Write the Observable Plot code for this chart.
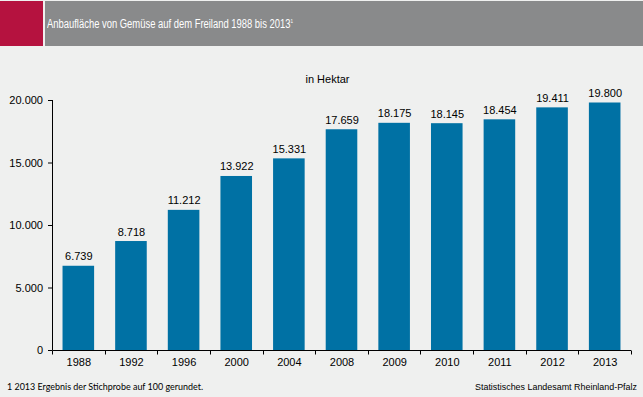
<!DOCTYPE html>
<html><head><meta charset="utf-8">
<script src="https://cdn.jsdelivr.net/npm/d3@7"></script>
<script src="https://cdn.jsdelivr.net/npm/@observablehq/plot@0.6"></script>
<style>
html,body{margin:0;padding:0;background:#eff0ef;width:643px;height:397px;overflow:hidden;font-family:"Liberation Sans",Arial,sans-serif;}
#wrap{position:relative;width:643px;height:397px;}
#red{position:absolute;left:0;top:1px;width:43px;height:45px;background:#b5123f;}
#gray{position:absolute;left:45px;top:1px;width:598px;height:45px;background:#898a8b;}
#title{position:absolute;left:47px;top:17px;color:#fff;font-size:12.5px;white-space:nowrap;transform-origin:0 0;}
#title sup{font-size:6px;vertical-align:5px;}
#chart{position:absolute;left:0;top:46px;}
.note{position:absolute;font-size:9px;color:#000;white-space:nowrap;transform-origin:0 0;}
#legend{position:absolute;top:73px;left:0;width:655px;text-align:center;font-size:11px;color:#000;}
</style></head>
<body><div id="wrap">
<div id="red"></div><div id="gray"></div>
<div id="title">Anbaufläche von Gemüse auf dem Freiland 1988 bis 2013<sup>1</sup></div>
<div id="legend">in Hektar</div>
<div id="chart"></div>
<div class="note" id="foot" style="left:7px;top:381px;font-family:Lato,sans-serif;">1 2013 Ergebnis der Stichprobe auf 100 gerundet.</div>
<div class="note" id="src" style="left:475px;top:382px;">Statistisches Landesamt Rheinland-Pfalz</div>
</div>
<script>
const years = ["1988","1992","1996","2000","2004","2008","2009","2010","2011","2012","2013"];
const values = [6739, 8718, 11212, 13922, 15331, 17659, 18175, 18145, 18454, 19411, 19800];
const yTicks = [0, 5000, 10000, 15000, 20000];

const de = d3.formatLocale({decimal: ",", thousands: ".", grouping: [3], currency: ["", "€"]});
const fmt = de.format(",d");
const data = years.map((y, i) => ({year: y, value: values[i]}));

const W = 643, H = 351, ML = 52, MR = 12, MT = 54, MB = 47;

const axesMark = (index, scales, values, dims) => {
  const y = scales.y;
  const g = d3.create("svg:g").attr("stroke", "#000").attr("stroke-width", 1);
  const y0 = Math.round(y(0)) + 0.5;
  const left = dims.marginLeft + 0.5;
  g.append("line").attr("x1", left).attr("x2", left).attr("y1", Math.round(y(yTicks[yTicks.length-1]))).attr("y2", y0);
  g.append("line").attr("x1", left).attr("x2", dims.width - dims.marginRight).attr("y1", y0).attr("y2", y0);
  const step = (dims.width - dims.marginLeft - dims.marginRight) / years.length;
  for (let i = 0; i <= years.length; i++) {
    const bx = Math.round(dims.marginLeft + i * step) + 0.5;
    g.append("line").attr("x1", bx).attr("x2", bx).attr("y1", y0).attr("y2", y0 + 4);
  }
  return g.node();
};

const chart = Plot.plot({
  width: W, height: H,
  marginLeft: ML, marginRight: MR, marginTop: MT, marginBottom: MB,
  style: {background: "transparent", fontFamily: "'Liberation Sans', Arial, sans-serif", fontSize: "11px", color: "#000"},
  x: {type: "band", domain: years, paddingInner: 0.4, paddingOuter: 0.2, round: false},
  y: {domain: [0, 20000]},
  marks: [
    Plot.barY(data, {x: "year", y: "value", fill: "#0071a4"}),
    Plot.text(data, {x: "year", y: "value", text: d => fmt(d.value), dy: -6, lineAnchor: "bottom", fontSize: 11, fill: "#000"}),
    Plot.axisY({ticks: yTicks, tickFormat: fmt, tickSize: 4, tickPadding: 5.5, label: null, fontSize: 11}),
    Plot.axisX({tickSize: 0, tickPadding: 8, label: null, fontSize: 11}),
    axesMark
  ]
});
document.getElementById("chart").appendChild(chart);

function fitWidth(id, target) {
  const el = document.getElementById(id);
  const w = el.getBoundingClientRect().width;
  el.style.transform = `scaleX(${target / w})`;
}
fitWidth("title", 246);
fitWidth("foot", 196);
fitWidth("src", 162);
</script>
</body></html>
